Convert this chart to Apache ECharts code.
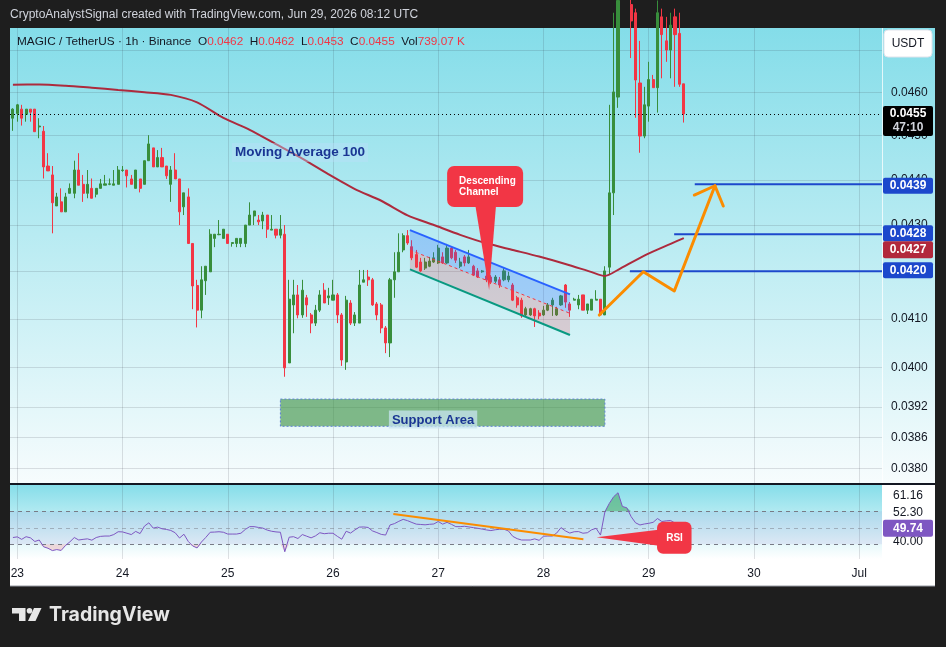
<!DOCTYPE html>
<html><head><meta charset="utf-8">
<script src="https://cdn.jsdelivr.net/npm/echarts@6/dist/echarts.min.js"></script>
<style>html,body{margin:0;padding:0;background:#1e1e1e;}#c{width:946px;height:647px;}</style>
</head><body><div id="c"></div>
<script>
// ---------- DATA ----------
const hours = Array.from({length: 154}, (_, i) => i - 1); // hourly bars, hour 0 = Jun 23 00:00
const opens = [
.04540,.04551,.04561,.04549,.04561,.04561,.04520,.04510,.04431,.04411,
.04342,.04351,.04329,.04370,.04370,.04422,.04390,.04370,.04381,.04368,
.04381,.04388,.04390,.04388,.04390,.04421,.04422,.04402,.04381,.04402,
.04390,.04443,.04472,.04429,.04450,.04431,.04390,.04422,.04402,.04340,
.04362,.04260,.04170,.04118,.04180,.04199,.04271,.04279,.04271,.04280,
.04260,.04260,.04260,.04260,.04300,.04320,.04311,.04309,.04322,.04289,
.04291,.04278,.04280,.04009,.04129,.04150,.04108,.04144,.04108,.04091,
.04118,.04160,.04144,.04139,.04150,.04108,.04011,.04133,.04091,.04091,
.04177,.04188,.04182,.04131,.04129,.04081,.04050,.04182,.04199,.04246,
.04277,.04253,.04236,.04220,.04207,.04211,.04220,.04218,.04231,.04218,
.04250,.04241,.04211,.04231,.04218,.04211,.04201,.04199,.04190,.04188,
.04179,.04182,.04182,.04182,.04171,.04144,.04139,.04108,.04108,.04121,
.04112,.04108,.04118,.04129,.04108,.04129,.04171,.04131,.04139,.04129,
.04150,.04118,.04118,.04139,.04141,.04108,.04209,.04371,.04589,.04820,
.04870,.04810,.04790,.04622,.04499,.04568,.04630,.04611,.04780,.04722,
.04700,.04780,.04740,.04620];
const highs = [
.04563,.04573,.04571,.04561,.04561,.04561,.04540,.04522,.04460,.04431,
.04371,.04381,.04371,.04392,.04443,.04460,.04411,.04422,.04403,.04381,
.04402,.04411,.04403,.04422,.04431,.04431,.04422,.04411,.04422,.04402,
.04443,.04501,.04472,.04467,.04472,.04431,.04431,.04460,.04402,.04371,
.04381,.04260,.04182,.04211,.04211,.04291,.04280,.04311,.04291,.04280,
.04262,.04271,.04271,.04300,.04350,.04331,.04322,.04329,.04322,.04322,
.04291,.04322,.04300,.04182,.04182,.04171,.04182,.04150,.04112,.04129,
.04160,.04175,.04165,.04182,.04154,.04112,.04148,.04139,.04114,.04203,
.04203,.04203,.04186,.04135,.04133,.04085,.04186,.04241,.04282,.04282,
.04289,.04267,.04246,.04229,.04229,.04231,.04241,.04257,.04241,.04259,
.04254,.04246,.04229,.04235,.04246,.04214,.04207,.04203,.04199,.04192,
.04192,.04188,.04207,.04199,.04175,.04148,.04144,.04125,.04123,.04123,
.04118,.04127,.04133,.04144,.04125,.04150,.04173,.04135,.04144,.04150,
.04150,.04131,.04141,.04160,.04141,.04211,.04571,.04790,.04860,.04900,
.04900,.04830,.04800,.04722,.04613,.04672,.04641,.04820,.04800,.04780,
.04790,.04800,.04790,.04620];
const lows = [
.04511,.04532,.04523,.04532,.04532,.04509,.04494,.04403,.04420,.04282,
.04342,.04329,.04329,.04370,.04359,.04388,.04351,.04359,.04359,.04361,
.04381,.04388,.04388,.04388,.04390,.04418,.04383,.04390,.04381,.04372,
.04390,.04443,.04429,.04429,.04429,.04402,.04351,.04402,.04300,.04322,
.04260,.04120,.04082,.04101,.04150,.04199,.04252,.04278,.04271,.04260,
.04253,.04252,.04252,.04252,.04300,.04300,.04300,.04291,.04272,.04289,
.04271,.04271,.03981,.04009,.04070,.04101,.04102,.04104,.04070,.04085,
.04114,.04133,.04129,.04139,.04091,.04003,.03995,.04087,.04085,.04091,
.04177,.04169,.04127,.04097,.04070,.04029,.04021,.04144,.04199,.04241,
.04257,.04224,.04207,.04199,.04203,.04209,.04218,.04216,.04216,.04216,
.04226,.04218,.04207,.04211,.04216,.04190,.04186,.04197,.04177,.04173,
.04175,.04165,.04179,.04177,.04137,.04123,.04102,.04104,.04106,.04083,
.04099,.04106,.04116,.04106,.04106,.04127,.04123,.04104,.04139,.04120,
.04118,.04110,.04118,.04139,.04108,.04108,.04192,.04322,.04564,.04800,
.04780,.04681,.04541,.04461,.04494,.04532,.04611,.04553,.04633,.04672,
.04633,.04613,.04613,.04530];
const closes = [
.04561,.04571,.04540,.04561,.04554,.04509,.04522,.04429,.04420,.04349,
.04362,.04329,.04362,.04381,.04422,.04388,.04370,.04390,.04359,.04381,
.04391,.04391,.04391,.04391,.04422,.04422,.04409,.04390,.04422,.04381,
.04443,.04481,.04429,.04450,.04429,.04409,.04422,.04402,.04329,.04371,
.04260,.04169,.04118,.04182,.04211,.04280,.04280,.04280,.04291,.04260,
.04262,.04271,.04271,.04300,.04322,.04331,.04307,.04322,.04291,.04291,
.04278,.04291,.03999,.04141,.04150,.04108,.04160,.04129,.04091,.04118,
.04150,.04133,.04148,.04150,.04108,.04015,.04139,.04091,.04108,.04171,
.04182,.04182,.04129,.04108,.04081,.04050,.04182,.04199,.04241,.04277,
.04261,.04229,.04209,.04201,.04220,.04222,.04229,.04250,.04218,.04250,
.04229,.04224,.04220,.04218,.04231,.04192,.04188,.04201,.04182,.04177,
.04188,.04171,.04201,.04190,.04139,.04129,.04106,.04121,.04121,.04106,
.04106,.04118,.04129,.04139,.04121,.04148,.04135,.04118,.04141,.04141,
.04118,.04131,.04141,.04141,.04108,.04201,.04371,.04601,.04820,.04870,
.04810,.04770,.04629,.04499,.04571,.04630,.04611,.04790,.04737,.04700,
.04760,.04737,.04619,.04550];
const rsiValues = [
44.1,44.5,43.0,44.6,43.9,41.7,42.6,38.5,37.6,36.2,
36.8,36.3,39.3,41.5,44.1,42.6,43.0,43.3,42.5,44.1,
44.8,45.0,45.0,45.9,47.6,47.5,46.7,45.9,47.8,46.5,
51.0,53.0,49.8,50.4,49.4,49.0,48.4,47.0,43.8,46.1,
41.7,39.0,37.8,41.4,44.2,47.3,47.4,47.6,47.3,46.2,
46.2,46.2,46.7,49.0,50.7,50.7,50.2,49.8,48.6,47.9,
47.5,47.3,35.5,44.3,44.6,43.5,45.9,44.9,43.9,45.1,
47.0,46.4,46.7,46.7,44.8,43.1,47.9,46.8,48.7,50.4,
50.5,50.2,48.1,47.1,46.0,45.6,51.7,52.5,53.9,55.1,
54.3,53.2,52.2,52.0,51.8,52.1,52.3,53.8,52.2,53.3,
52.1,50.7,50.7,50.9,50.5,50.1,49.7,49.2,48.7,48.3,
48.8,49.1,49.1,48.1,44.8,43.4,42.6,42.6,42.6,43.3,
42.4,44.9,45.0,45.0,46.8,50.1,48.1,46.8,47.6,47.7,
46.7,47.0,48.8,49.7,45.6,59.6,64.7,68.8,71.2,62.9,
62.1,56.7,53.0,51.7,52.3,52.7,53.3,55.6,53.8,54.2,
54.4,52.8,51.1,49.74];
const maHours  = [-1,5,11,17,23,29,35,41,47,53,59,65,71,77,83,89,95,101,107,113,119,125,131,134,137,143,149,152];
const maValues = [0.046180,0.046187,0.046157,0.046108,0.046056,0.046005,0.045942,0.045767,0.045408,0.045132,0.044805,0.044478,0.044123,0.043794,0.043535,0.043213,0.043001,0.042787,0.042603,0.042460,0.042318,0.042159,0.041984,0.041901,0.042033,0.042339,0.042592,0.042716];

const dayTicks  = [0,24,48,72,96,120,144,168,192];
const dayLabels = ['23','24','25','26','27','28','29','30','Jul'];
const priceTicks = [0.0380,0.0386,0.0392,0.0400,0.0410,0.0420,0.0430,0.0440,0.0450,0.0460,0.0470];

// drawings
const channelHours = [89.55, 126.04];
const channelTop = [0.042891, 0.041513];
const channelMid = [0.042458, 0.041114];
const channelBot = [0.042043, 0.040663];
const supportHours = [60, 134];
const supportPrices = [0.03936, 0.03882];
const levelPrices = [0.0439, 0.0428, 0.0420];
const levelStartHours = [154.5, 149.8, 139.7];
const pathHours = [132.72, 142.76, 149.83, 159.1];
const pathPrices = [0.041078, 0.041992, 0.041583, 0.043868];
const arrowHours = [154.4, 159.1, 161.0];
const arrowPrices = [0.043661, 0.043868, 0.043418];
const rsiTrendHours = [85.75, 129.1];
const rsiTrendValues = [58.4, 43.0];
const lastPrice = 0.0455, maLast = 0.0427;
const rsiBands = [60, 50, 40];

// ---------- CHART ----------
const L = Math.log;
const X_MIN = -1.665, X_MAX = 197.2;
const P_MIN = 0.037717, P_MAX = 0.04753;
const R_MIN = 31.1, R_MAX = 75.9;
const UP = '#388e3c', DOWN = '#f23645', GRID = 'rgba(42,46,57,0.14)';
const FONT = 'Liberation Sans';

const chart = echarts.init(document.getElementById('c'));
const candleData = hours.map((h, i) => [h, L(opens[i]), L(closes[i]), L(lows[i]), L(highs[i])]);
const rsiData = hours.map((h, i) => [h, rsiValues[i]]);

const series = [
  {
    type: 'candlestick', xAxisIndex: 0, yAxisIndex: 0, data: candleData,
    encode: {x: 0, y: [1, 2, 3, 4]}, barWidth: 2.6, z: 3,
    itemStyle: {color: UP, color0: DOWN, borderColor: UP, borderColor0: DOWN, borderWidth: 1},
    markLine: {
      silent: true, symbol: 'none', label: {show: false},
      lineStyle: {color: '#000', width: 1, type: [1, 3]},
      data: [{yAxis: L(lastPrice)}]
    },
    markArea: {
      silent: true,
      itemStyle: {color: 'rgba(56,142,60,0.6)', borderColor: '#5b7fd6', borderWidth: 1, borderType: [2, 2]},
      label: {show: true, position: [109, 12], formatter: 'Support Area', color: '#1a3593',
        fontFamily: FONT, fontWeight: 'bold', fontSize: 13, backgroundColor: 'rgba(200,228,240,0.75)', padding: [3, 3, 2, 3]},
      data: [[{coord: [supportHours[0], L(supportPrices[0])]}, {coord: [supportHours[1], L(supportPrices[1])]}]]
    }
  },
  {
    type: 'line', xAxisIndex: 0, yAxisIndex: 0, symbol: 'none', smooth: 0.25, z: 4,
    lineStyle: {color: '#ad2a3d', width: 2}, data: maHours.map((h, i) => [h, L(maValues[i])])
  },
  {
    type: 'custom', xAxisIndex: 0, yAxisIndex: 0, z: 6, silent: true,
    data: [[channelHours[0], L(channelTop[0])]],
    renderItem: (params, api) => {
      const c = (h, p) => api.coord([h, L(p)]);
      const t0 = c(channelHours[0], channelTop[0]), t1 = c(channelHours[1], channelTop[1]);
      const m0 = c(channelHours[0], channelMid[0]), m1 = c(channelHours[1], channelMid[1]);
      const b0 = c(channelHours[0], channelBot[0]), b1 = c(channelHours[1], channelBot[1]);
      return {type: 'group', children: [
        {type: 'polygon', shape: {points: [t0, t1, m1, m0]}, style: {fill: 'rgba(41,98,255,0.25)'}},
        {type: 'polygon', shape: {points: [m0, m1, b1, b0]}, style: {fill: 'rgba(242,54,69,0.2)'}},
        {type: 'line', shape: {x1: t0[0], y1: t0[1], x2: t1[0], y2: t1[1]}, style: {stroke: '#2962ff', lineWidth: 2}},
        {type: 'line', shape: {x1: m0[0], y1: m0[1], x2: m1[0], y2: m1[1]}, style: {stroke: '#f23645', lineWidth: 1, lineDash: [3, 3]}},
        {type: 'line', shape: {x1: b0[0], y1: b0[1], x2: b1[0], y2: b1[1]}, style: {stroke: '#089981', lineWidth: 2}}
      ]};
    }
  },
  ...levelPrices.map((p, i) => ({
    type: 'line', xAxisIndex: 0, yAxisIndex: 0, symbol: 'none', z: 7, silent: true,
    lineStyle: {color: '#1c48cc', width: 2},
    data: [[levelStartHours[i], L(p)], [X_MAX, L(p)]]
  })),
  {
    type: 'line', xAxisIndex: 0, yAxisIndex: 0, symbol: 'none', z: 8, silent: true,
    lineStyle: {color: '#fb8c00', width: 3, cap: 'round', join: 'round'},
    data: pathHours.map((h, i) => [h, L(pathPrices[i])])
  },
  {
    type: 'line', xAxisIndex: 0, yAxisIndex: 0, symbol: 'none', z: 8, silent: true,
    lineStyle: {color: '#fb8c00', width: 3, cap: 'round', join: 'round'},
    data: arrowHours.map((h, i) => [h, L(arrowPrices[i])])
  },
  // RSI pane: overbought / oversold fills between the RSI line and the bands
  {
    type: 'custom', xAxisIndex: 1, yAxisIndex: 1, z: 3, silent: true,
    data: [[hours[0], rsiBands[1]]],
    renderItem: (params, api) => {
      const ob = hours.map((h, i) => api.coord([h, Math.max(rsiValues[i], rsiBands[0])]));
      ob.push(api.coord([hours[hours.length - 1], rsiBands[0]]), api.coord([hours[0], rsiBands[0]]));
      const os = hours.map((h, i) => api.coord([h, Math.min(rsiValues[i], rsiBands[2])]));
      os.push(api.coord([hours[hours.length - 1], rsiBands[2]]), api.coord([hours[0], rsiBands[2]]));
      return {type: 'group', children: [
        {type: 'polygon', shape: {points: ob}, style: {fill: 'rgba(56,160,80,0.5)'}},
        {type: 'polygon', shape: {points: os}, style: {fill: 'rgba(242,54,69,0.18)'}}
      ]};
    }
  },
  {
    type: 'line', xAxisIndex: 1, yAxisIndex: 1, symbol: 'none', z: 5,
    lineStyle: {color: '#7e57c2', width: 1}, data: rsiData,
    markArea: {silent: true, itemStyle: {color: 'rgba(126,87,194,0.1)'}, data: [[{yAxis: rsiBands[2]}, {yAxis: rsiBands[0]}]]},
    markLine: {
      silent: true, symbol: 'none', label: {show: false},
      data: [
        {yAxis: rsiBands[0], lineStyle: {color: '#787b86', width: 1, type: [4, 4]}},
        {yAxis: rsiBands[1], lineStyle: {color: 'rgba(120,123,134,0.5)', width: 1, type: [4, 4]}},
        {yAxis: rsiBands[2], lineStyle: {color: '#787b86', width: 1, type: [4, 4]}}
      ]
    }
  },
  {
    type: 'line', xAxisIndex: 1, yAxisIndex: 1, symbol: 'none', z: 6, silent: true,
    lineStyle: {color: '#fb8c00', width: 2}, data: rsiTrendHours.map((h, i) => [h, rsiTrendValues[i]])
  }
];

chart.setOption({
  animation: false,
  backgroundColor: '#1e1e1e',
  grid: [
    {left: 10, top: 28, width: 872, height: 455},
    {left: 10, top: 485, width: 872, height: 74}
  ],
  xAxis: [
    {type: 'value', gridIndex: 0, min: X_MIN, max: X_MAX, axisLine: {show: false},
     axisTick: {show: false, customValues: dayTicks}, axisLabel: {show: false},
     splitLine: {show: true, lineStyle: {color: GRID}}},
    {type: 'value', gridIndex: 1, min: X_MIN, max: X_MAX, axisLine: {show: false},
     axisTick: {show: false, customValues: dayTicks},
     axisLabel: {customValues: dayTicks, formatter: v => dayLabels[Math.round(v / 24)], color: '#131722', fontSize: 12, fontFamily: FONT, margin: 9},
     splitLine: {show: true, lineStyle: {color: GRID}}}
  ],
  yAxis: [
    {type: 'value', gridIndex: 0, position: 'right', min: L(P_MIN), max: L(P_MAX),
     axisLine: {show: false}, axisTick: {show: false, customValues: priceTicks.map(L)},
     axisLabel: {customValues: priceTicks.map(L), formatter: v => Math.exp(v).toFixed(4), color: '#131722', fontSize: 12, fontFamily: FONT, margin: 9},
     splitLine: {show: true, lineStyle: {color: GRID}}},
    {type: 'value', gridIndex: 1, position: 'right', min: R_MIN, max: R_MAX,
     axisLine: {show: false}, axisTick: {show: false}, axisLabel: {show: false}, splitLine: {show: false}}
  ],
  series
});

// ---------- overlays (positions derived from the chart's own scales) ----------
const P = (h, p) => chart.convertToPixel({gridIndex: 0}, [h, L(p)]);
const R = (h, v) => chart.convertToPixel({gridIndex: 1}, [h, v]);
const grad = (c0, c1) => new echarts.graphic.LinearGradient(0, 0, 0, 1, [{offset: 0, color: c0}, {offset: 1, color: c1}]);

function badge(yc, text, fill, h) {
  return [
    {type: 'rect', z: 100, shape: {x: 883, y: yc - h / 2, width: 50, height: h, r: 2}, style: {fill}},
    {type: 'text', z: 101, x: 908, y: yc, style: {text, fill: '#fff', font: 'bold 12px ' + FONT, align: 'center', verticalAlign: 'middle'}}
  ];
}

const yLast = P(0, lastPrice)[1];
const elements = [
  // backgrounds
  {type: 'rect', z: -10, shape: {x: 10, y: 28, width: 925, height: 456}, style: {fill: grad('#84dde9', '#f7fcfd')}},
  {type: 'rect', z: -10, shape: {x: 10, y: 484, width: 872, height: 75}, style: {fill: grad('#84dde9', '#ffffff')}},
  {type: 'rect', z: -10, shape: {x: 882, y: 484, width: 53, height: 75}, style: {fill: '#ffffff'}},
  {type: 'rect', z: -10, shape: {x: 10, y: 559, width: 925, height: 27}, style: {fill: '#ffffff'}},
  {type: 'line', z: 50, shape: {x1: 10, y1: 484, x2: 935, y2: 484}, style: {stroke: '#131722', lineWidth: 2}},
  {type: 'line', z: 50, shape: {x1: 882.5, y1: 28, x2: 882.5, y2: 483}, style: {stroke: 'rgba(255,255,255,0.75)', lineWidth: 1}},
  {type: 'line', z: 50, shape: {x1: 10, y1: 586, x2: 935, y2: 586}, style: {stroke: '#9598a1', lineWidth: 1}},
  // top title
  {type: 'text', z: 100, x: 10, y: 15, style: {text: 'CryptoAnalystSignal created with TradingView.com, Jun 29, 2026 08:12 UTC', fill: '#d1d4dc', font: '12px ' + FONT, verticalAlign: 'middle'}},
  // legend line
  {type: 'text', z: 100, x: 17, y: 42, style: {
    text: '{n|MAGIC / TetherUS · 1h · Binance}  {n|O}{v|0.0462}  {n|H}{v|0.0462}  {n|L}{v|0.0453}  {n|C}{v|0.0455}  {n|Vol}{v|739.07 K}',
    verticalAlign: 'middle', font: '11.8px ' + FONT,
    rich: {n: {fill: '#131722', fontSize: 11.8, fontFamily: FONT}, v: {fill: '#f23645', fontSize: 11.8, fontFamily: FONT}}}},
  // USDT button
  {type: 'rect', z: 100, shape: {x: 884, y: 30, width: 48, height: 27, r: 4}, style: {fill: '#ffffff', stroke: '#e0e3eb'}},
  {type: 'text', z: 101, x: 908, y: 44, style: {text: 'USDT', fill: '#131722', font: '12px ' + FONT, align: 'center', verticalAlign: 'middle'}},
  // last price badge
  {type: 'rect', z: 100, shape: {x: 883, y: yLast - 8, width: 50, height: 30, r: 2}, style: {fill: '#000000'}},
  {type: 'text', z: 101, x: 908, y: yLast, style: {text: '0.0455', fill: '#fff', font: 'bold 12px ' + FONT, align: 'center', verticalAlign: 'middle'}},
  {type: 'text', z: 101, x: 908, y: yLast + 14, style: {text: '47:10', fill: '#d1d4dc', font: 'bold 12px ' + FONT, align: 'center', verticalAlign: 'middle'}},
  ...badge(P(0, levelPrices[0])[1] + 1.5, '0.0439', '#1c48cc', 16),
  ...badge(P(0, levelPrices[1])[1] - 1, '0.0428', '#1c48cc', 16),
  ...badge(P(0, maLast)[1] + 11, '0.0427', '#b2283c', 17),
  ...badge(P(0, levelPrices[2])[1] - 1, '0.0420', '#1c48cc', 16),
  // Moving Average label
  {type: 'rect', z: 90, shape: {x: 232, y: 143, width: 136, height: 19}, style: {fill: 'rgba(187,222,251,0.4)'}},
  {type: 'text', z: 91, x: 300, y: 152.5, style: {text: 'Moving Average 100', fill: '#1a3593', font: 'bold 13.5px ' + FONT, align: 'center', verticalAlign: 'middle'}},
];

// Descending Channel callout
const tip = P(107.6, 0.041604);
elements.push(
  {type: 'polygon', z: 95, shape: {points: [[tip[0] - 14, tip[1] - 86], [tip[0] + 7, tip[1] - 86], [tip[0], tip[1]]]}, style: {fill: '#f23645'}},
  {type: 'rect', z: 95, shape: {x: tip[0] - 42, y: tip[1] - 124, width: 76, height: 41, r: 7}, style: {fill: '#f23645'}},
  {type: 'text', z: 96, x: tip[0] - 30, y: tip[1] - 109, style: {text: 'Descending', fill: '#fff', font: 'bold 10px ' + FONT, verticalAlign: 'middle'}},
  {type: 'text', z: 96, x: tip[0] - 30, y: tip[1] - 98, style: {text: 'Channel', fill: '#fff', font: 'bold 10px ' + FONT, verticalAlign: 'middle'}}
);

// RSI callout
const rt = R(132.1, 44.2);
elements.push(
  {type: 'polygon', z: 95, shape: {points: [[rt[0], rt[1]], [rt[0] + 66, rt[1] - 8], [rt[0] + 66, rt[1] + 9]]}, style: {fill: '#f23645'}},
  {type: 'rect', z: 95, shape: {x: rt[0] + 60.5, y: rt[1] - 15.5, width: 34.5, height: 32, r: 6}, style: {fill: '#f23645'}},
  {type: 'text', z: 96, x: rt[0] + 78, y: rt[1] + 0.5, style: {text: 'RSI', fill: '#fff', font: 'bold 10px ' + FONT, align: 'center', verticalAlign: 'middle'}}
);

// RSI scale labels
const yR = R(152, rsiValues[rsiValues.length - 1])[1];
elements.push(
  {type: 'text', z: 100, x: 908, y: yR - 33, style: {text: '61.16', fill: '#131722', font: '12px ' + FONT, align: 'center', verticalAlign: 'middle'}},
  {type: 'text', z: 100, x: 908, y: yR - 16, style: {text: '52.30', fill: '#131722', font: '12px ' + FONT, align: 'center', verticalAlign: 'middle'}},
  {type: 'text', z: 100, x: 908, y: yR + 13, style: {text: '40.00', fill: '#131722', font: '12px ' + FONT, align: 'center', verticalAlign: 'middle'}},
  {type: 'rect', z: 101, shape: {x: 883, y: yR - 8.5, width: 50, height: 17, r: 2}, style: {fill: '#7e57c2'}},
  {type: 'text', z: 102, x: 908, y: yR, style: {text: '49.74', fill: '#fff', font: 'bold 12px ' + FONT, align: 'center', verticalAlign: 'middle'}}
);

// TradingView logo
elements.push(
  {type: 'polygon', z: 100, shape: {points: [[12, 608], [25.5, 608], [25.5, 621], [19, 621], [19, 613.5], [12, 613.5]]}, style: {fill: '#e6e6e6'}},
  {type: 'circle', z: 100, shape: {cx: 29.5, cy: 610.8, r: 2.8}, style: {fill: '#e6e6e6'}},
  {type: 'polygon', z: 100, shape: {points: [[34, 608], [41.5, 608], [35.5, 621], [28, 621]]}, style: {fill: '#e6e6e6'}},
  {type: 'text', z: 100, x: 49, y: 615, style: {text: 'TradingView', fill: '#e6e6e6', font: 'bold 19.5px Inter', verticalAlign: 'middle'}}
);

chart.setOption({graphic: {elements}});
</script>
</body></html>
